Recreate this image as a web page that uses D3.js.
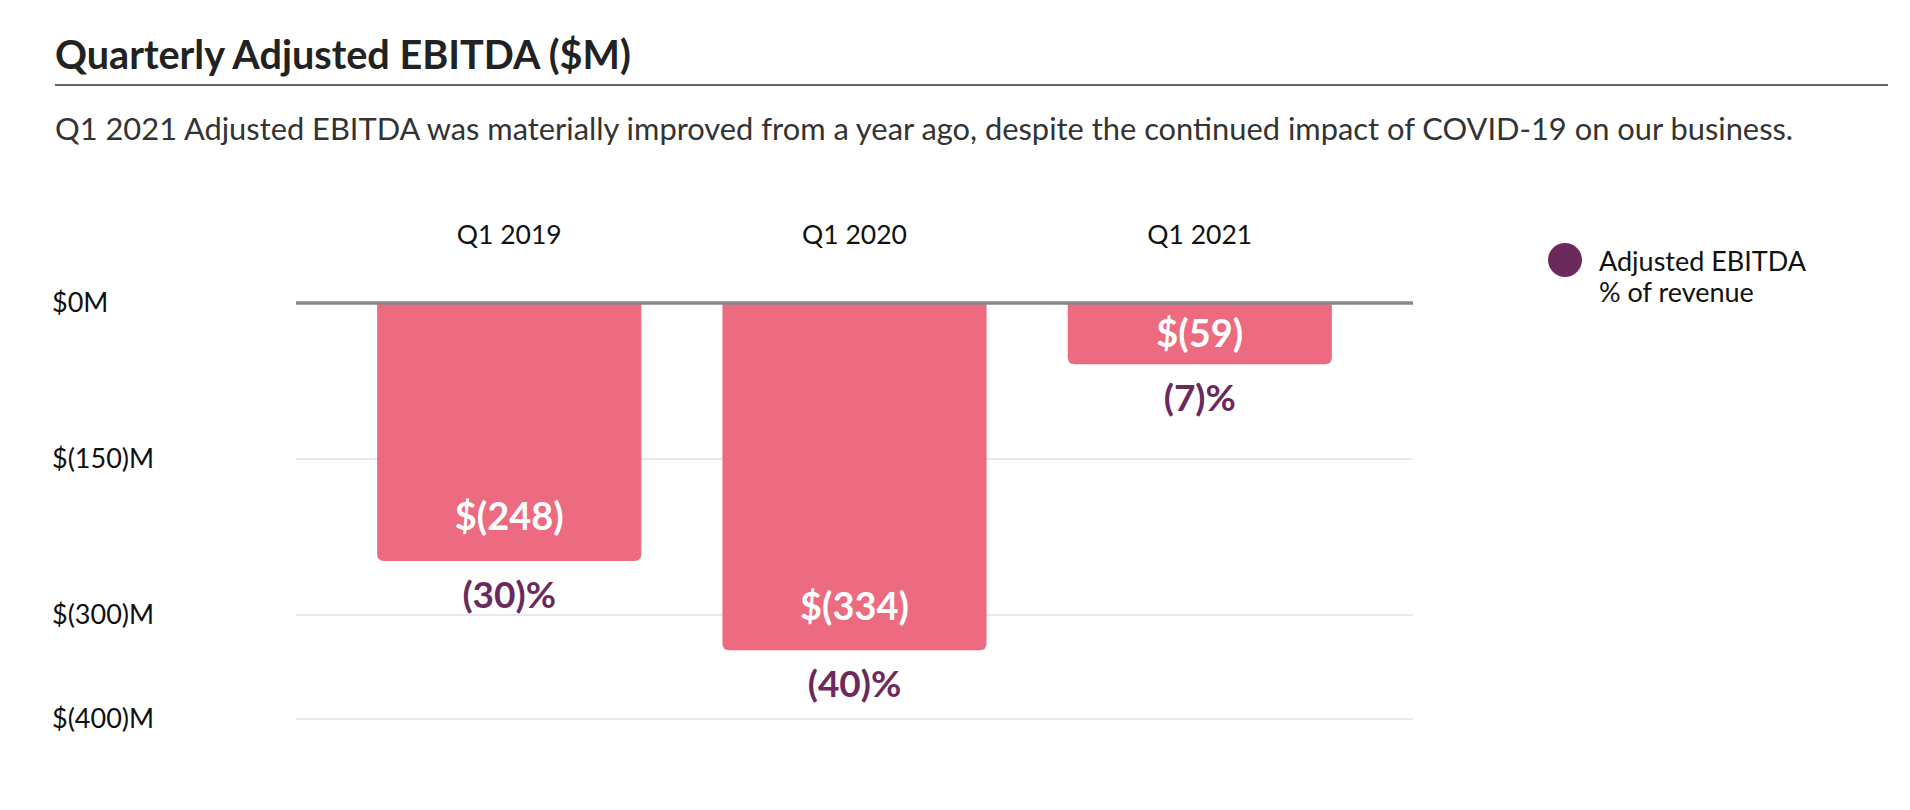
<!DOCTYPE html>
<html>
<head>
<meta charset="utf-8">
<script src="https://cdn.jsdelivr.net/npm/d3@7"></script>
<style>
  body { margin: 0; background: #fff; }
  text { font-family: Lato, "Open Sans", sans-serif; }
</style>
</head>
<body>
<script>
// chart data
var categories  = ["Q1 2019", "Q1 2020", "Q1 2021"];
var ebitda      = [-248, -334, -59];
var pctRevenue  = [-30, -40, -7];
var yTicks      = [0, -150, -300, -400];
var yTickLabels = ["$0M", "$(150)M", "$(300)M", "$(400)M"];
var legendLines = ["Adjusted EBITDA", "% of revenue"];

var W = 1910, H = 810;
var barColor = "#ec6b80", purple = "#6c2a5c";

var svg = d3.select("body").append("svg")
    .attr("width", W)
    .attr("height", H);

// fit a text element to a width by changing its font size
function fitWidth(t, target) {
  var fs = parseFloat(t.attr("font-size"));
  var len = t.node().getComputedTextLength();
  t.attr("font-size", fs * target / len);
}

// header
var title = svg.append("text")
    .attr("x", 55).attr("y", 69)
    .attr("font-size", 34).attr("font-weight", 700)
    .attr("fill", "#222")
    .text("Quarterly Adjusted EBITDA ($M)");
fitWidth(title, 576);

svg.append("line")
    .attr("x1", 55).attr("x2", 1888)
    .attr("y1", 85).attr("y2", 85)
    .attr("stroke", "#333").attr("stroke-width", 1.5);

var sub = svg.append("text")
    .attr("x", 55).attr("y", 140)
    .attr("font-size", 30)
    .attr("fill", "#333")
    .text("Q1 2021 Adjusted EBITDA was materially improved from a year ago, despite the continued impact of COVID-19 on our business.");
fitWidth(sub, 1739);

// scales
var x = d3.scaleBand()
    .domain(categories)
    .range([296, 1413])
    .padding(0.235);

var y = d3.scaleLinear()
    .domain([-400, 0])
    .range([719, 303]);

// grid lines
svg.append("g").selectAll("line")
  .data(yTicks.filter(function(d) { return d != 0; }))
  .enter().append("line")
    .attr("x1", 296).attr("x2", 1413)
    .attr("y1", function(d) { return y(d); })
    .attr("y2", function(d) { return y(d); })
    .attr("stroke", "#e8e8e8").attr("stroke-width", 2);

// tick labels
svg.append("g").selectAll("text")
  .data(yTicks)
  .enter().append("text")
    .attr("x", 52)
    .attr("y", function(d) { return y(d); })
    .attr("dy", "0.35em")
    .attr("font-size", 27)
    .attr("fill", "#111")
    .text(function(d, i) { return yTickLabels[i]; });

// category labels on top
svg.append("g").selectAll("text")
  .data(categories)
  .enter().append("text")
    .attr("x", function(d) { return x(d) + x.bandwidth() / 2; })
    .attr("y", 244)
    .attr("text-anchor", "middle")
    .attr("font-size", 26.5)
    .attr("fill", "#111")
    .text(function(d) { return d; });

// bar path, flat top and rounded bottom corners
function barPath(d, i) {
  var x0 = x(categories[i]), x1 = x0 + x.bandwidth();
  var y0 = y(0), y1 = y(d);
  var r = Math.min(7, (y1 - y0) / 2);
  return "M" + x0 + "," + y0 +
         "L" + x1 + "," + y0 +
         "L" + x1 + "," + (y1 - r) +
         "Q" + x1 + "," + y1 + " " + (x1 - r) + "," + y1 +
         "L" + (x0 + r) + "," + y1 +
         "Q" + x0 + "," + y1 + " " + x0 + "," + (y1 - r) + "Z";
}

var bars = svg.append("g").selectAll("g")
  .data(ebitda)
  .enter().append("g");

bars.append("path")
    .attr("d", barPath)
    .attr("fill", barColor);

// value inside bar, near the bottom (centred when the bar is short)
bars.append("text")
    .attr("x", function(d, i) { return x(categories[i]) + x.bandwidth() / 2; })
    .attr("y", function(d) {
      var mid = (y(0) + y(d)) / 2;
      return Math.max(mid, y(d) - 44);
    })
    .attr("dy", "0.35em")
    .attr("text-anchor", "middle")
    .attr("font-size", 38).attr("font-weight", 700)
    .attr("fill", "#fff")
    .text(function(d) { return "$(" + Math.abs(d) + ")"; });

// % of revenue under bar
bars.append("text")
    .attr("x", function(d, i) { return x(categories[i]) + x.bandwidth() / 2; })
    .attr("y", function(d) { return y(d) + 34; })
    .attr("dy", "0.35em")
    .attr("text-anchor", "middle")
    .attr("font-size", 37).attr("font-weight", 700)
    .attr("fill", purple)
    .text(function(d, i) { return "(" + Math.abs(pctRevenue[i]) + ")%"; });

// zero line
svg.append("line")
    .attr("x1", 296).attr("x2", 1413)
    .attr("y1", y(0)).attr("y2", y(0))
    .attr("stroke", "#88888c").attr("stroke-width", 3.5);

// legend
var legend = svg.append("g");
legend.append("circle")
    .attr("cx", 1565).attr("cy", 260).attr("r", 17)
    .attr("fill", purple);
legend.selectAll("text")
  .data(legendLines)
  .enter().append("text")
    .attr("x", 1599)
    .attr("y", function(d, i) { return 262 + i * 31; })
    .attr("dy", "0.35em")
    .attr("font-size", 27)
    .attr("fill", "#111")
    .text(function(d) { return d; });
</script>
</body>
</html>
